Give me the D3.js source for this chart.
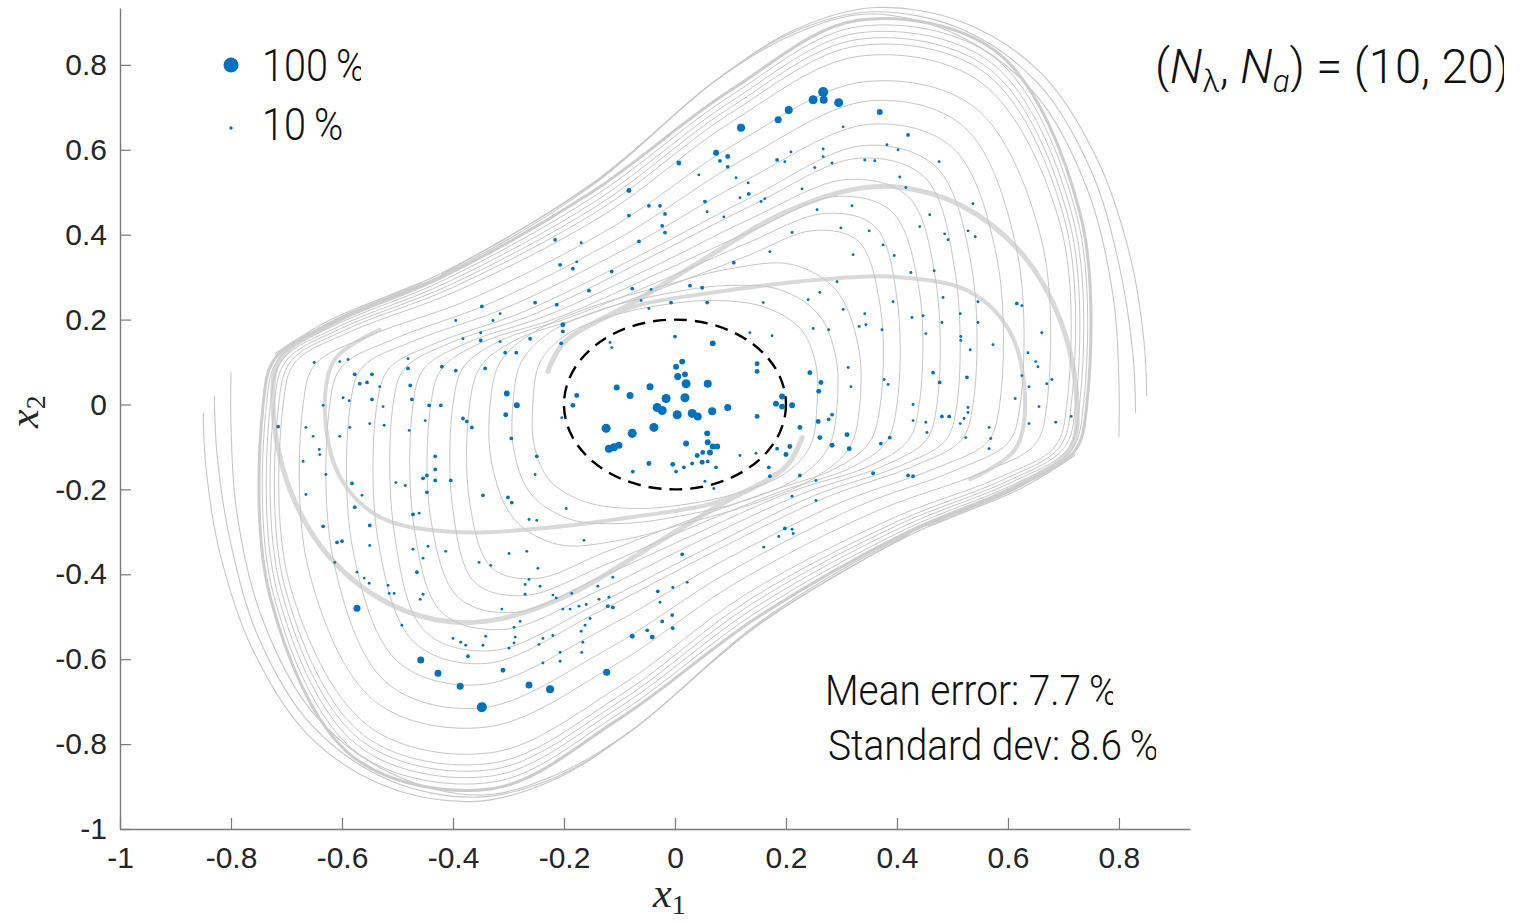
<!DOCTYPE html>
<html>
<head>
<meta charset="utf-8">
<script src="https://cdn.jsdelivr.net/npm/d3@7"></script>
<style>
  html, body { margin: 0; padding: 0; background: #fff; }
  svg { display: block; }
</style>
</head>
<body>
<svg id="chart" width="1527" height="923"></svg>
<script>
// ---- axis ticks ----
const xTicks = [-1, -0.8, -0.6, -0.4, -0.2, 0, 0.2, 0.4, 0.6, 0.8];
const xTickLabels = ["-1", "-0.8", "-0.6", "-0.4", "-0.2", "0", "0.2", "0.4", "0.6", "0.8"];
const yTicks = [-1, -0.8, -0.6, -0.4, -0.2, 0, 0.2, 0.4, 0.6, 0.8];
const yTickLabels = ["-1", "-0.8", "-0.6", "-0.4", "-0.2", "0", "0.2", "0.4", "0.6", "0.8"];

// ---- annotation values ----
const legendLevels = [100, 10];          // error (%) shown in the size legend
const meanError = 7.7;                   // %
const stdDev = 8.6;                      // %
const basisSizes = [10, 20];             // (N_lambda, N_g)
const safeRadius = 0.2;                  // dashed region around the origin

// ---- phase-plane trajectories (x1, x2) ----
// outermost closed orbit (limit cycle)
const limitCycle = [[-0.742,0],[-0.72,0.11],[-0.62,0.19],[-0.42,0.30],[-0.15,0.50],[0.10,0.74],[0.33,0.905],[0.58,0.83],[0.73,0.45],
  [0.742,0],[0.72,-0.11],[0.62,-0.19],[0.42,-0.30],[0.15,-0.50],[-0.10,-0.74],[-0.33,-0.905],[-0.58,-0.83],[-0.73,-0.45]];

// nested orbits inside the limit cycle
const orbits = [
  [[-0.736,0],[-0.714,0.108],[-0.614,0.186],[-0.415,0.294],[-0.146,0.49],[0.10,0.727],[0.33,0.89],[0.575,0.818],[0.724,0.445],
   [0.736,0],[0.714,-0.108],[0.614,-0.186],[0.415,-0.294],[0.146,-0.49],[-0.10,-0.727],[-0.33,-0.89],[-0.575,-0.818],[-0.724,-0.445]],
  [[-0.729,0],[-0.707,0.106],[-0.607,0.183],[-0.41,0.288],[-0.142,0.48],[0.10,0.713],[0.33,0.875],[0.57,0.805],[0.717,0.44],
   [0.729,0],[0.707,-0.106],[0.607,-0.183],[0.41,-0.288],[0.142,-0.48],[-0.10,-0.713],[-0.33,-0.875],[-0.57,-0.805],[-0.717,-0.44]],
  [[-0.722,0],[-0.70,0.104],[-0.60,0.18],[-0.405,0.282],[-0.138,0.47],[0.10,0.70],[0.33,0.86],[0.565,0.792],[0.71,0.435],
   [0.722,0],[0.70,-0.104],[0.60,-0.18],[0.405,-0.282],[0.138,-0.47],[-0.10,-0.70],[-0.33,-0.86],[-0.565,-0.792],[-0.71,-0.435]],
  [[-0.714,0],[-0.692,0.102],[-0.592,0.177],[-0.40,0.276],[-0.134,0.46],[0.10,0.686],[0.33,0.845],[0.56,0.78],[0.703,0.43],
   [0.714,0],[0.692,-0.102],[0.592,-0.177],[0.40,-0.276],[0.134,-0.46],[-0.10,-0.686],[-0.33,-0.845],[-0.56,-0.78],[-0.703,-0.43]],
  [[-0.706,0],[-0.684,0.10],[-0.584,0.172],[-0.392,0.268],[-0.128,0.447],[0.10,0.664],[0.33,0.82],[0.552,0.758],[0.695,0.42],
   [0.706,0],[0.684,-0.10],[0.584,-0.172],[0.392,-0.268],[0.128,-0.447],[-0.10,-0.664],[-0.33,-0.82],[-0.552,-0.758],[-0.695,-0.42]],
  [[-0.67,0],[-0.648,0.095],[-0.55,0.162],[-0.365,0.25],[-0.11,0.42],[0.11,0.615],[0.34,0.76],[0.54,0.70],[0.66,0.39],
   [0.67,0],[0.648,-0.095],[0.55,-0.162],[0.365,-0.25],[0.11,-0.42],[-0.11,-0.615],[-0.34,-0.76],[-0.54,-0.70],[-0.66,-0.39]],
  [[-0.622,0],[-0.60,0.09],[-0.505,0.155],[-0.33,0.24],[-0.09,0.40],[0.12,0.575],[0.35,0.715],[0.52,0.655],[0.615,0.37],
   [0.622,0],[0.60,-0.09],[0.505,-0.155],[0.33,-0.24],[0.09,-0.40],[-0.12,-0.575],[-0.35,-0.715],[-0.52,-0.655],[-0.615,-0.37]],
  [[-0.585,0],[-0.563,0.088],[-0.47,0.15],[-0.30,0.23],[-0.07,0.38],[0.13,0.53],[0.35,0.66],[0.50,0.605],[0.58,0.345],
   [0.585,0],[0.563,-0.088],[0.47,-0.15],[0.30,-0.23],[0.07,-0.38],[-0.13,-0.53],[-0.35,-0.66],[-0.50,-0.605],[-0.58,-0.345]],
  [[-0.537,0],[-0.515,0.085],[-0.43,0.145],[-0.27,0.22],[-0.05,0.36],[0.14,0.49],[0.34,0.61],[0.47,0.56],[0.535,0.32],
   [0.537,0],[0.515,-0.085],[0.43,-0.145],[0.27,-0.22],[0.05,-0.36],[-0.14,-0.49],[-0.34,-0.61],[-0.47,-0.56],[-0.535,-0.32]],
  [[-0.508,0],[-0.487,0.085],[-0.405,0.145],[-0.25,0.215],[-0.04,0.35],[0.14,0.47],[0.33,0.58],[0.45,0.535],[0.505,0.31],
   [0.508,0],[0.487,-0.085],[0.405,-0.145],[0.25,-0.215],[0.04,-0.35],[-0.14,-0.47],[-0.33,-0.58],[-0.45,-0.535],[-0.505,-0.31]],
  [[-0.472,0],[-0.452,0.085],[-0.375,0.145],[-0.23,0.21],[-0.03,0.33],[0.14,0.44],[0.31,0.53],[0.42,0.49],[0.47,0.29],
   [0.472,0],[0.452,-0.085],[0.375,-0.145],[0.23,-0.21],[0.03,-0.33],[-0.14,-0.44],[-0.31,-0.53],[-0.42,-0.49],[-0.47,-0.29]],
  [[-0.44,0],[-0.42,0.085],[-0.35,0.145],[-0.21,0.205],[-0.02,0.315],[0.14,0.41],[0.29,0.49],[0.39,0.455],[0.44,0.27],
   [0.44,0],[0.42,-0.085],[0.35,-0.145],[0.21,-0.205],[0.02,-0.315],[-0.14,-0.41],[-0.29,-0.49],[-0.39,-0.455],[-0.44,-0.27]],
  [[-0.40,0],[-0.38,0.09],[-0.315,0.15],[-0.19,0.205],[-0.01,0.30],[0.13,0.38],[0.27,0.45],[0.36,0.42],[0.40,0.25],
   [0.40,0],[0.38,-0.09],[0.315,-0.15],[0.19,-0.205],[0.01,-0.30],[-0.13,-0.38],[-0.27,-0.45],[-0.36,-0.42],[-0.40,-0.25]],
  [[-0.37,0],[-0.35,0.09],[-0.29,0.15],[-0.17,0.205],[0,0.285],[0.13,0.35],[0.25,0.41],[0.33,0.385],[0.37,0.23],
   [0.37,0],[0.35,-0.09],[0.29,-0.15],[0.17,-0.205],[0,-0.285],[-0.13,-0.35],[-0.25,-0.41],[-0.33,-0.385],[-0.37,-0.23]],
  [[-0.333,0],[-0.315,0.10],[-0.255,0.17],[-0.15,0.23],[-0.02,0.28],[0.10,0.32],[0.21,0.33],[0.29,0.27],[0.33,0.14],
   [0.333,0],[0.315,-0.10],[0.255,-0.17],[0.15,-0.23],[0.02,-0.28],[-0.10,-0.32],[-0.21,-0.33],[-0.29,-0.27],[-0.33,-0.14]],
  [[-0.292,0],[-0.277,0.10],[-0.225,0.17],[-0.13,0.225],[-0.02,0.26],[0.09,0.28],[0.19,0.27],[0.26,0.21],[0.29,0.11],
   [0.292,0],[0.277,-0.10],[0.225,-0.17],[0.13,-0.225],[0.02,-0.26],[-0.09,-0.28],[-0.19,-0.27],[-0.26,-0.21],[-0.29,-0.11]],
  [[-0.256,0],[-0.243,0.10],[-0.195,0.165],[-0.11,0.21],[-0.02,0.235],[0.07,0.245],[0.16,0.23],[0.225,0.18],[0.253,0.10],
   [0.256,0],[0.243,-0.10],[0.195,-0.165],[0.11,-0.21],[0.02,-0.235],[-0.07,-0.245],[-0.16,-0.23],[-0.225,-0.18],[-0.253,-0.10]]
];

// dense spiral arms leaving the region around the origin
const spiralArms = [
  [[-0.229,0.078],[-0.20,0.146],[-0.076,0.24],[0.045,0.336],[0.189,0.447],[0.315,0.505],[0.405,0.512],[0.514,0.47],[0.622,0.36],[0.694,0.2],[0.724,0.012],[0.712,-0.106],[0.622,-0.188],[0.459,-0.282]],
  [[0.229,-0.078],[0.20,-0.146],[0.076,-0.24],[-0.045,-0.336],[-0.189,-0.447],[-0.315,-0.505],[-0.405,-0.512],[-0.514,-0.47],[-0.622,-0.36],[-0.694,-0.2],[-0.724,-0.012],[-0.712,0.106],[-0.622,0.188],[-0.459,0.282]],
  [[-0.135,0.2],[-0.063,0.235],[0.076,0.265],[0.225,0.29],[0.405,0.30],[0.532,0.265],[0.604,0.17],[0.631,0.012],[0.613,-0.106],[0.532,-0.176]],
  [[0.135,-0.2],[0.063,-0.235],[-0.076,-0.265],[-0.225,-0.29],[-0.405,-0.30],[-0.532,-0.265],[-0.604,-0.17],[-0.631,-0.012],[-0.613,0.106],[-0.532,0.176]]
];

// trajectories entering from outside the limit cycle
const outerPaths = [
  [[-0.85,-0.02],[-0.845,-0.15],[-0.82,-0.35],[-0.76,-0.58],[-0.66,-0.78],[-0.52,-0.90],[-0.36,-0.935],[-0.22,-0.885],[-0.08,-0.77],[0.15,-0.52],[0.42,-0.31],[0.62,-0.20],[0.72,-0.12]],
  [[-0.80,0.075],[-0.80,-0.05],[-0.79,-0.25],[-0.745,-0.50],[-0.65,-0.73],[-0.51,-0.87],[-0.35,-0.92],[-0.21,-0.87],[-0.07,-0.76],[0.15,-0.515],[0.42,-0.305],[0.62,-0.195],[0.72,-0.115]],
  [[-0.83,0.02],[-0.825,-0.12],[-0.80,-0.33],[-0.75,-0.55],[-0.655,-0.755],[-0.515,-0.885],[-0.355,-0.925],[-0.215,-0.878],[-0.075,-0.765],[0.15,-0.518],[0.42,-0.307]],
  [[0.85,0.02],[0.845,0.15],[0.82,0.35],[0.76,0.58],[0.66,0.78],[0.52,0.90],[0.36,0.935],[0.22,0.885],[0.08,0.77],[-0.15,0.52],[-0.42,0.31],[-0.62,0.20],[-0.72,0.12]],
  [[0.80,-0.075],[0.80,0.05],[0.79,0.25],[0.745,0.50],[0.65,0.73],[0.51,0.87],[0.35,0.92],[0.21,0.87],[0.07,0.76],[-0.15,0.515],[-0.42,0.305],[-0.62,0.195],[-0.72,0.115]],
  [[0.83,-0.02],[0.825,0.12],[0.80,0.33],[0.75,0.55],[0.655,0.755],[0.515,0.885],[0.355,0.925],[0.215,0.878],[0.075,0.765],[-0.15,0.518],[-0.42,0.307]]
];

// ---- test samples: [x1, x2, relative error in %] ----
const samples = [
  [0.119,0.652,38],[0.186,0.671,31],[0.205,0.694,38],[0.249,0.718,46],[0.267,0.736,54],[0.268,0.718,38],[0.295,0.711,46],[0.369,0.689,24],[0.303,0.654,8],[0.420,0.635,12],
  [0.074,0.593,24],[0.095,0.584,18],[0.081,0.574,12],[0.095,0.560,12],[0.007,0.569,18],[-0.083,0.504,18],[-0.047,0.468,12],[-0.027,0.468,12],[-0.018,0.449,12],[-0.023,0.421,12],
  [-0.018,0.405,12],[-0.083,0.445,12],[-0.065,0.384,12],[-0.216,0.388,12],[-0.207,0.329,12],[-0.184,0.320,12],[-0.169,0.381,8],[-0.177,0.336,8],[-0.114,0.313,12],[-0.155,0.268,12],
  [-0.213,0.235,12],[-0.077,0.273,12],[-0.043,0.271,8],[-0.061,0.245,8],[-0.047,0.226,8],[-0.007,0.240,12],[0.027,0.280,12],[0.049,0.275,12],[0.058,0.240,12],[0.043,0.541,8],
  [0.110,0.534,8],[0.054,0.478,12],[0.058,0.454,8],[0.088,0.442,8],[0.117,0.487,8],[0.133,0.496,12],[0.132,0.522,8],[0.155,0.478,8],[0.162,0.485,8],[0.184,0.576,12],
  [0.198,0.572,8],[0.209,0.595,8],[0.267,0.602,8],[0.267,0.584,8],[0.252,0.558,8],[0.283,0.569,8],[0.382,0.612,8],[0.402,0.600,8],[0.342,0.576,8],[0.360,0.574,8],
  [0.319,0.468,8],[0.256,0.459,8],[0.229,0.508,8],[0.299,0.416,8],[0.350,0.409,8],[0.375,0.376,8],[0.395,0.351,8],[0.321,0.353,8],[0.292,0.289,8],[0.261,0.264,8],
  [0.240,0.247,8],[0.171,0.360,8],[0.106,0.334,12],[0.211,0.405,8],[0.159,0.240,8],[0.303,0.224,8],[0.342,0.214,8],[0.393,0.242,8],
  [0.476,0.572,8],[0.459,0.447,8],[0.486,0.402,8],[0.492,0.388,8],[0.528,0.409,8],[0.541,0.395,8],[0.537,0.473,8],[0.467,0.315,8],[0.441,0.419,8],[0.425,0.311,8],
  [0.483,0.252,8],[0.515,0.160,8],[0.546,0.193,8],[0.616,0.238,12],[0.625,0.233,8],[0.416,0.511,8],[0.405,0.536,8],
  [0.243,0.075,18],[0.263,0.052,18],[0.259,0.031,18],[0.182,0.002,24],[0.193,0.019,24],[0.193,-0.005,24],[0.211,-0.002,24],[0.225,-0.054,18],[0.258,-0.040,18],[0.277,-0.035,12],
  [0.283,-0.024,12],[0.261,-0.078,18],[0.283,-0.096,18],[0.314,-0.104,18],[0.310,-0.071,18],[0.207,-0.099,18],[0.200,-0.118,18],[0.184,-0.104,12],[0.169,-0.148,12],[0.171,-0.169,12],
  [0.225,-0.167,12],[0.254,-0.179,8],[0.211,-0.216,8],[0.254,-0.226,8],[0.357,-0.162,12],[0.420,-0.167,12],[0.429,-0.169,12],[0.371,-0.092,12],[0.387,-0.078,12],[0.312,0.087,8],
  [0.317,0.042,8],[0.377,0.059,8],[0.384,0.047,8],[0.429,0,8],[0.429,-0.038,8],[0.452,-0.042,8],[0.454,-0.066,8],[0.465,0.075,12],[0.477,0.052,12],[0.481,-0.028,12],
  [0.494,-0.028,12],[0.514,-0.045,8],[0.521,-0.033,8],[0.528,-0.019,8],[0.528,-0.007,8],[0.526,0.064,12],[0.524,-0.078,8],[0.566,-0.054,8],[0.569,-0.080,8],[0.566,-0.104,8],
  [0.452,0.167,8],[0.427,0.205,8],[0.447,0.209,8],[0.481,0.193,8],[0.514,0.214,8],[0.515,0.151,8],[0.532,0.129,8],[0.546,0.242,8],[0.573,0.141,8],[0.344,0.188,8],
  [0.332,0.184,8],[0.373,0.176,8],[0.277,0.176,8],[0.249,0.179,8],[0.175,0.162,8],[0.160,-0.336,8],[0.198,-0.292,12],[0.211,-0.294,8],[0.213,-0.304,8],[0.187,-0.311,8],
  [0.636,0.122,8],[0.650,0.101,8],[0.654,0.089,8],[0.625,0.068,8],[0.638,0.042,8],[0.661,0.169,8],[0.670,0.049,8],[0.679,0.059,8],[0.686,-0.042,8],[0.638,-0.045,8],
  [0.656,-0.005,8],[0.714,-0.028,8],[0.613,0.014,8],
  [0.013,0.101,24],[0.002,0.089,24],[0.005,0.066,31],[0.018,0.071,24],[0.020,0.049,46],[0.059,0.049,38],[-0.105,0.040,24],[-0.045,0.042,31],[-0.081,0.021,31],[-0.016,0.014,46],
  [0.018,0.016,46],[-0.032,-0.007,46],[-0.023,-0.014,46],[0.004,-0.024,46],[0.031,-0.021,46],[0.041,-0.028,38],[0.067,-0.016,38],[0.095,-0.007,31],[-0.124,-0.056,46],[-0.077,-0.068,46],
  [-0.038,-0.054,46],[-0.119,-0.104,38],[-0.110,-0.101,38],[-0.101,-0.096,31],[0.020,-0.092,24],[0.058,-0.068,24],[0.059,-0.089,24],[0.068,-0.099,24],[0.076,-0.099,24],[0.063,-0.113,24],
  [0.050,-0.113,18],[0.040,-0.120,18],[-0.047,-0.139,18],[-0.004,-0.141,18],[0.016,-0.148,12],[0.031,-0.139,12],[0.049,-0.136,18],[0.059,-0.134,12],[0.074,-0.148,12],[0.002,-0.158,12],
  [-0.076,-0.158,12],[0,0.160,12],[0.068,0.144,24],[0.148,0.096,18],[0.148,0.078,18],[0.148,-0.028,18],[-0.177,0.021,18],[-0.184,-0.002,18],[-0.202,0.188,18],[-0.202,0.172,12],
  [-0.205,0.144,12],[-0.117,0.146,8],[-0.114,0.134,8],[-0.204,-0.031,8],[0.117,-0.120,8],[0.146,-0.115,8],[0.070,-0.198,8],[0.054,-0.181,8],[-0.249,-0.122,12],[-0.252,-0.165,8],
  [-0.261,0.155,12],[-0.252,0.240,12],[0.135,0.169,8],
  [-0.348,0.231,12],[-0.315,0.214,8],[-0.328,0.198,8],[-0.315,0.148,8],[-0.350,0.169,8],[-0.350,0.151,12],[-0.306,0.122,12],[-0.286,0.122,12],[-0.395,0.198,8],[-0.382,0.155,8],
  [-0.395,0.080,12],[-0.420,0.089,12],[-0.342,0.085,12],[-0.303,0.026,24],[-0.285,-0.002,24],[-0.305,-0.024,18],[-0.295,-0.080,12],[-0.481,0.108,8],[-0.481,0.085,12],[-0.477,0.045,12],
  [-0.474,0.012,12],[-0.443,-0.002,12],[-0.422,-0.002,12],[-0.382,-0.033,12],[-0.375,-0.040,12],[-0.366,-0.054,12],[-0.479,-0.061,8],[-0.450,-0.038,8],[-0.532,0.042,8],[-0.546,0.012,12],
  [-0.546,0.071,12],[-0.555,0.052,12],[-0.568,0.049,12],[-0.577,0.071,12],[-0.598,0.016,8],[-0.587,0.009,8],[-0.604,0.101,8],[-0.589,0.106,8],[-0.634,-0.002,8],[-0.650,0.099,8],
  [-0.526,-0.005,8],[-0.524,-0.049,8],[-0.550,-0.045,8],[-0.586,-0.054,8],[-0.604,-0.075,8],[-0.715,-0.052,12],[-0.665,-0.054,8],[-0.652,-0.075,8],[-0.641,-0.106,8],[-0.640,-0.118,8],
  [-0.670,-0.134,8],[-0.629,-0.165,8],[-0.665,-0.212,8],[-0.582,-0.186,12],[-0.564,-0.214,8],[-0.577,-0.242,12],[-0.432,-0.122,12],[-0.432,-0.153,12],[-0.447,-0.167,12],[-0.454,-0.174,12],
  [-0.432,-0.179,12],[-0.404,-0.179,12],[-0.447,-0.207,12],[-0.486,-0.191,8],[-0.503,-0.184,8],[-0.346,-0.214,12],[-0.301,-0.219,12],[-0.294,-0.231,12],[-0.196,-0.245,8],[-0.263,-0.271,8],
  [-0.249,-0.273,8],[-0.472,-0.259,12],[-0.461,-0.256,8],[-0.550,-0.285,12],[-0.634,-0.287,12],[-0.609,-0.325,12],[-0.600,-0.322,12],[-0.550,-0.332,8],[-0.613,-0.372,8],[-0.573,-0.395,8],
  [-0.560,-0.409,8],[-0.551,-0.421,8],[-0.517,-0.426,8],[-0.515,-0.445,8],[-0.465,-0.395,12],[-0.454,-0.362,8],[-0.445,-0.334,8],[-0.413,-0.346,8],[-0.472,-0.341,8],[-0.353,-0.372,8],
  [-0.332,-0.379,8],[-0.299,-0.351,8],[-0.267,-0.346,8],[-0.247,-0.386,8],[-0.243,-0.428,8],[-0.263,-0.412,8],[-0.220,-0.449,8],[-0.454,-0.447,8],
  [-0.573,-0.480,31],[-0.458,-0.602,31],[-0.427,-0.633,31],[-0.387,-0.664,31],[-0.348,-0.713,54],[-0.310,-0.626,18],[-0.263,-0.661,31],[-0.225,-0.671,38],[-0.123,-0.631,31],[-0.077,-0.546,18],
  [-0.050,-0.532,12],[-0.041,-0.548,18],[-0.004,-0.527,12],[-0.005,-0.496,12],[-0.023,-0.511,12],[-0.027,-0.466,8],[-0.031,-0.440,12],[-0.004,-0.431,8],[0.022,-0.419,8],[0.013,-0.353,12],
  [-0.112,-0.407,8],[-0.119,-0.454,8],[-0.121,-0.475,12],[-0.112,-0.478,12],[-0.137,-0.459,8],[-0.153,-0.504,8],[-0.162,-0.520,8],[-0.169,-0.534,8],[-0.166,-0.560,8],[-0.168,-0.584,8],
  [-0.207,-0.584,8],[-0.207,-0.605,8],[-0.220,-0.544,8],[-0.238,-0.551,8],[-0.245,-0.565,8],[-0.238,-0.609,8],[-0.288,-0.548,8],[-0.290,-0.562,8],[-0.299,-0.574,8],[-0.290,-0.525,8],
  [-0.279,-0.511,8],[-0.189,-0.482,8],[-0.173,-0.475,8],[-0.160,-0.471,8],[-0.202,-0.482,8],[-0.312,-0.482,8],[-0.341,-0.546,8],[-0.346,-0.567,8],[-0.377,-0.567,8],[-0.386,-0.560,8],
  [-0.373,-0.593,12],[-0.400,-0.551,8],[-0.492,-0.520,8],[-0.214,-0.456,8],[-0.186,-0.445,8],[-0.139,-0.428,8],[-0.270,-0.447,8],[-0.270,-0.424,8],[-0.459,-0.459,8],[-0.506,-0.445,8],
  [-0.164,-0.320,8]
];

// ---- layout ----
const svg = d3.select("#chart");
const x = d3.scaleLinear().domain([-1, 0.928]).range([120, 1190]);
const y = d3.scaleLinear().domain([-1, 0.934]).range([829, 8]);
const r = d3.scalePow().exponent(0.65).domain([0, 100]).range([0, 7.5]);
const BLUE = "#0072bd";

const defs = svg.append("defs");
function clipRect(id, x0, y0, x1, y1) {
  defs.append("clipPath").attr("id", id)
    .append("rect").attr("x", x0).attr("y", y0).attr("width", x1 - x0).attr("height", y1 - y0);
  return `url(#${id})`;
}

const closed = d3.line().x(d => x(d[0])).y(d => y(d[1])).curve(d3.curveCatmullRomClosed.alpha(0.5));
const open = d3.line().x(d => x(d[0])).y(d => y(d[1])).curve(d3.curveCatmullRom.alpha(0.5));

// trajectories
const traj = svg.append("g").attr("fill", "none").attr("stroke-linecap", "round");
traj.selectAll("path.arm").data(spiralArms).join("path").attr("class", "arm")
  .attr("d", open).attr("stroke", "#d9d9d9").attr("stroke-width", (d, i) => i < 2 ? 5 : 4);
traj.selectAll("path.orbit").data(orbits).join("path").attr("class", "orbit")
  .attr("d", closed).attr("stroke", "#c6c6c6").attr("stroke-width", 1);
traj.selectAll("path.outer").data(outerPaths).join("path").attr("class", "outer")
  .attr("d", open).attr("stroke", "#c6c6c6").attr("stroke-width", 1.1);
traj.append("path").datum(limitCycle).attr("d", closed).attr("stroke", "#cccccc").attr("stroke-width", 3);

// dashed region around the origin
svg.append("ellipse")
  .attr("cx", x(0)).attr("cy", y(0))
  .attr("rx", x(safeRadius) - x(0)).attr("ry", y(0) - y(safeRadius))
  .attr("fill", "none").attr("stroke", "#000").attr("stroke-width", 2.4)
  .attr("stroke-dasharray", "13,8");

// samples
svg.append("g").selectAll("circle").data(samples).join("circle")
  .attr("cx", d => x(d[0])).attr("cy", d => y(d[1])).attr("r", d => r(d[2]))
  .attr("fill", BLUE);

// axes
const axisColor = "#7a7a7a";
const gx = svg.append("g").attr("transform", `translate(0,${y(-1)})`)
  .call(d3.axisBottom(x).tickValues(xTicks).tickFormat((d, i) => xTickLabels[i])
    .tickSizeInner(-11).tickSizeOuter(0).tickPadding(18));
const gy = svg.append("g").attr("transform", `translate(${x(-1)},0)`)
  .call(d3.axisLeft(y).tickValues(yTicks).tickFormat((d, i) => yTickLabels[i])
    .tickSizeInner(-11).tickSizeOuter(0).tickPadding(13));
[gx, gy].forEach(g => {
  g.select(".domain").attr("stroke", axisColor).attr("stroke-width", 1.4);
  g.selectAll(".tick line").attr("stroke", axisColor).attr("stroke-width", 1.2);
  g.selectAll(".tick text").attr("fill", "#262626")
    .style("font-family", "'Liberation Sans', Arial, sans-serif").style("font-size", "30px");
});

// axis titles
const serif = "'Liberation Serif', 'DejaVu Serif', serif";
const xt = svg.append("text").attr("x", 653).attr("y", 907)
  .style("font-family", serif).attr("fill", "#262626");
xt.append("tspan").style("font-style", "italic").style("font-size", "42px").text("x");
xt.append("tspan").attr("dy", 7).style("font-size", "28px").text("1");

const yt = svg.append("text").attr("transform", "translate(38,428) rotate(-90)")
  .style("font-family", serif).attr("fill", "#262626");
yt.append("tspan").style("font-style", "italic").style("font-size", "42px").text("x");
yt.append("tspan").attr("dy", 7).style("font-size", "28px").text("2");

// light sans face for the annotations
const sans = "Roboto, 'Liberation Sans', Arial, sans-serif";
const annWeight = 300;

// size legend
const legendRows = [{ v: legendLevels[0], cy: 65, base: 81, clip: 361 }, { v: legendLevels[1], cy: 128, base: 140, clip: 343 }];
legendRows.forEach((row, i) => {
  svg.append("circle").attr("cx", 231).attr("cy", row.cy).attr("r", r(row.v)).attr("fill", BLUE);
  svg.append("g").attr("clip-path", clipRect("lg" + i, 250, row.base - 45, row.clip, row.base + 15))
    .append("text").attr("transform", `translate(262,${row.base}) scale(0.9,1)`)
    .style("font-family", sans).style("font-weight", annWeight).style("font-size", "44px").attr("fill", "#111")
    .text(`${row.v}\u2009%`);
});

// basis size annotation
const title = svg.append("g").attr("clip-path", clipRect("ttl", 1140, 20, 1504, 92))
  .append("text").attr("transform", "translate(1155,83) scale(0.98,1)")
  .style("font-family", sans).style("font-weight", annWeight).style("font-size", "48px").attr("fill", "#111");
title.append("tspan").text("(");
title.append("tspan").style("font-style", "italic").text("N");
title.append("tspan").attr("dy", 9).style("font-size", "32px").text("\u03bb");
title.append("tspan").attr("dy", -9).text(", ");
title.append("tspan").style("font-style", "italic").text("N");
title.append("tspan").attr("dy", 9).style("font-size", "32px").style("font-style", "italic").text("g");
title.append("tspan").attr("dy", -9).text(`) = (${basisSizes[0]}, ${basisSizes[1]})`);

// error statistics
const stats = [
  { label: `Mean error: ${meanError}\u2009%`, x0: 825, base: 705, clip: 1113 },
  { label: `Standard dev: ${stdDev}\u2009%`, x0: 828, base: 760, clip: 1156 }
];
stats.forEach((s, i) => {
  svg.append("g").attr("clip-path", clipRect("st" + i, 800, s.base - 45, s.clip, s.base + 15))
    .append("text").attr("transform", `translate(${s.x0},${s.base}) scale(0.925,1)`)
    .style("font-family", sans).style("font-weight", annWeight).style("font-size", "42px").attr("fill", "#111")
    .text(s.label);
});
</script>
</body>
</html>
